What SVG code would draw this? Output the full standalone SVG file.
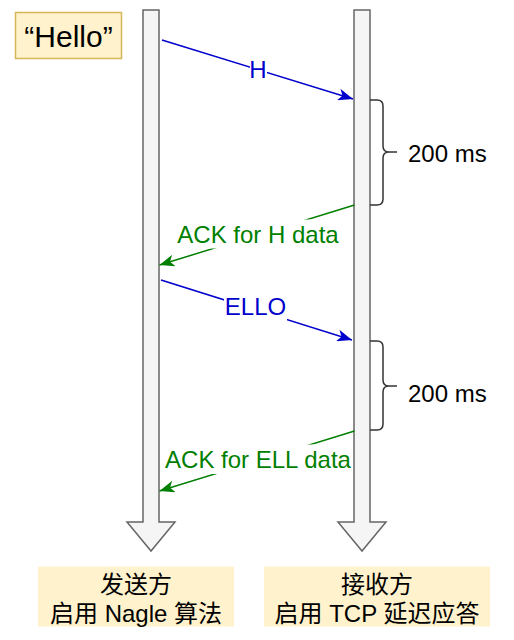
<svg xmlns="http://www.w3.org/2000/svg" width="514" height="640" viewBox="0 0 514 640">
<style>
.t{font-family:"Liberation Sans","Noto Sans CJK SC",Arial,sans-serif;font-size:24px;text-anchor:middle}
.life{fill:#f5f5f5;stroke:#666666;stroke-width:1.5}
.note{fill:#fff2cc}
.brace{fill:none;stroke:#333333;stroke-width:1.5}
.blue{stroke:#0000cc;stroke-width:1.5;fill:none}
.green{stroke:#007f00;stroke-width:1.5;fill:none}
.bg{fill:#ffffff}
</style>
<defs>
<marker id="ab" markerUnits="userSpaceOnUse" markerWidth="16" markerHeight="12" refX="15" refY="6" orient="auto"><path d="M0,0 L15,6 L0,12 L4,6 Z" fill="#0000cc"/></marker>
<marker id="ag" markerUnits="userSpaceOnUse" markerWidth="16" markerHeight="12" refX="15" refY="6" orient="auto"><path d="M0,0 L15,6 L0,12 L4,6 Z" fill="#007f00"/></marker>
</defs>
<rect width="514" height="640" fill="#ffffff"/>
<g id="hello">
<rect x="15.5" y="12.5" width="106" height="46" fill="#fff2cc" stroke="#d6b656" stroke-width="1.5"/>
<text class="t" x="68.5" y="47" style="font-size:30px">“Hello”</text>
</g>
<g id="sender-lifeline">
<path class="life" d="M143,10 H159 V522 H175 L151,551 L127,522 H143 Z"/>
</g>
<g id="receiver-lifeline">
<path class="life" d="M354,10 H370 V522 H386 L362,551 L338,522 H354 Z"/>
</g>
<g id="brace1">
<path class="brace" d="M370,100 H377 Q383,100 383,106 V146 Q383,152 389,152 H397 M389,152 Q383,152 383,158 V199 Q383,205 377,205 H370"/>
<text class="t" x="408" y="161.5" style="text-anchor:start">200 ms</text>
</g>
<g id="brace2">
<path class="brace" d="M370,341 H377 Q383,341 383,347 V380 Q383,386 389,386 H397 M389,386 Q383,386 383,392 V424 Q383,430 377,430 H370"/>
<text class="t" x="408" y="401.5" style="text-anchor:start">200 ms</text>
</g>
<g id="connectors">
<g id="msg-h">
<line class="blue" x1="162" y1="40" x2="353" y2="99" marker-end="url(#ab)"/>
<rect class="bg" x="250" y="60" width="17" height="22"/>
<text class="t" x="258" y="78.3" fill="#0000cc">H</text>
</g>
<g id="ack-h">
<line class="green" x1="354.5" y1="205" x2="159.5" y2="265" marker-end="url(#ag)"/>
<rect class="bg" x="176" y="219.5" width="164" height="29"/>
<text class="t" x="258" y="243.3" fill="#007f00">ACK for H data</text>
</g>
<g id="msg-ello">
<line class="blue" x1="161" y1="280" x2="352" y2="340" marker-end="url(#ab)"/>
<rect class="bg" x="224" y="296" width="63" height="25"/>
<text class="t" x="255.5" y="315" fill="#0000cc">ELLO</text>
</g>
<g id="ack-ell">
<line class="green" x1="354.5" y1="431" x2="159.5" y2="491" marker-end="url(#ag)"/>
<rect class="bg" x="163" y="444.5" width="189" height="29.5"/>
<text class="t" x="258" y="468.3" fill="#007f00">ACK for ELL data</text>
</g>
</g>
<g id="sender-label">
<rect class="note" x="38" y="566.5" width="196" height="60"/>
<text class="t" x="136" y="593">发送方</text>
<text class="t" x="136" y="621.5">启用 Nagle 算法</text>
</g>
<g id="receiver-label">
<rect class="note" x="264" y="566.5" width="226" height="60"/>
<text class="t" x="377" y="593">接收方</text>
<text class="t" x="377" y="621.5">启用 TCP 延迟应答</text>
</g>
</svg>
